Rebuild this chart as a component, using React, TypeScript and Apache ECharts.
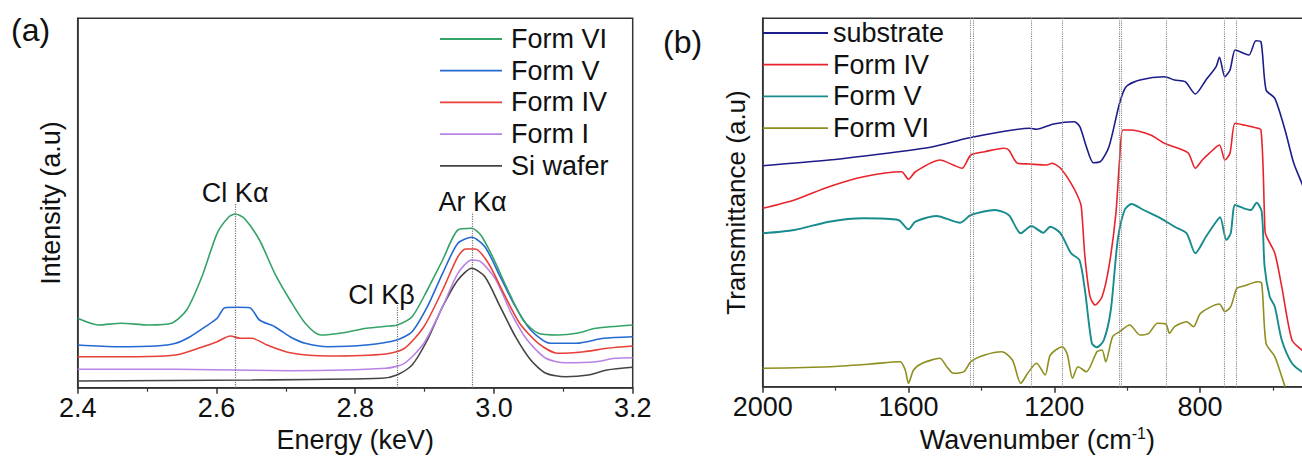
import React, { useEffect, useRef } from 'react';
import * as echarts from 'echarts';

const FONT = '"Liberation Sans", Arial, Helvetica, sans-serif';

// ---------- Panel (a): EDX spectra, [energy keV, intensity a.u.] ----------
const aFormVI: [number, number][] = [
  [2.4, 69.4], [2.43, 62.7], [2.463, 64.4], [2.502, 62.7], [2.535, 64.4], [2.557, 77.7], [2.579, 111],
  [2.601, 154.4], [2.618, 171], [2.627, 173.7], [2.64, 169.4], [2.662, 147.7], [2.684, 114.4],
  [2.706, 87.7], [2.728, 64.4], [2.75, 52.7], [2.783, 55], [2.816, 59.4], [2.849, 61.7], [2.861, 62.7],
  [2.882, 71], [2.904, 97.7], [2.926, 127.7], [2.948, 157.7], [2.968, 159.4], [2.981, 152.7],
  [2.998, 131], [3.02, 97.7], [3.042, 67.7], [3.064, 54.4], [3.092, 52.7], [3.119, 54.4],
  [3.147, 59.4], [3.2, 62.7],
];
const aFormV: [number, number][] = [
  [2.4, 42.7], [2.458, 41], [2.513, 41.7], [2.541, 44.4], [2.562, 51], [2.584, 61], [2.601, 69.4],
  [2.612, 80], [2.629, 80.4], [2.648, 80], [2.662, 67.7], [2.684, 61], [2.706, 51], [2.728, 44.4],
  [2.761, 41], [2.816, 42.7], [2.86, 47.7], [2.882, 56], [2.904, 81], [2.926, 114.4], [2.948, 144.4],
  [2.968, 150.4], [2.987, 141], [3.009, 111], [3.031, 81], [3.053, 57.7], [3.081, 44.4],
  [3.119, 44.4], [3.158, 49.4], [3.2, 51],
];
const aFormIV: [number, number][] = [
  [2.4, 31], [2.485, 31], [2.541, 32.7], [2.574, 39.4], [2.601, 46], [2.62, 51.7], [2.634, 49.4],
  [2.651, 49.4], [2.673, 42.7], [2.706, 35], [2.761, 31.7], [2.844, 33.7], [2.871, 39.4],
  [2.899, 61], [2.926, 97.7], [2.948, 131], [2.959, 138.7], [2.973, 138.7], [2.992, 124.4],
  [3.014, 94.4], [3.037, 64.4], [3.064, 44.4], [3.092, 34.4], [3.13, 36], [3.163, 39.4], [3.2, 41.7],
];
const aFormI: [number, number][] = [
  [2.4, 18.4], [2.541, 18.4], [2.706, 17], [2.844, 19.4], [2.871, 24.4], [2.899, 44.4], [2.926, 81],
  [2.948, 114.4], [2.968, 127.7], [2.981, 126], [3.003, 107.7], [3.025, 74.4], [3.048, 47.7],
  [3.075, 29.4], [3.103, 25], [3.147, 26], [3.174, 29.4], [3.2, 30],
];
const aSiWafer: [number, number][] = [
  [2.4, 6.7], [2.651, 7.7], [2.838, 9.4], [2.86, 12.7], [2.882, 22.7], [2.904, 47.7], [2.926, 81],
  [2.948, 107.7], [2.968, 119.4], [2.987, 111], [3.009, 81], [3.031, 51], [3.053, 27.7],
  [3.075, 14.4], [3.103, 11], [3.136, 12.7], [3.163, 17.7], [3.2, 20.4],
];
const aPeakNames = ['Cl Kα', 'Cl Kβ', 'Ar Kα'];
const aPeakEnergy = [2.627, 2.861, 2.969];
const aPeakTop = [184, 82.5, 175.5];

// ---------- Panel (b): FTIR spectra, [wavenumber cm-1, transmittance a.u.] ----------
const bSubstrate: [number, number][] = [
  [2000, 221], [1818, 226.7], [1628, 235], [1533, 240], [1439, 248.4], [1344, 255], [1268, 258.4],
  [1249, 257.4], [1202, 262.7], [1145, 265], [1130, 260], [1112, 240], [1093, 224], [1074, 225],
  [1050, 240], [1021, 283.4], [1003, 300], [965, 306.7], [898, 310], [870, 306.7], [841, 305],
  [813, 292.7], [784, 306.7], [756, 320], [747, 329.4], [732, 310], [718, 316.7], [704, 336.7],
  [690, 335], [666, 331.7], [647, 346], [633, 345], [619, 296.7], [595, 288.4], [567, 256.7],
  [543, 223.4], [521, 203.4], [505, 185],
];
const bFormIV: [number, number][] = [
  [2000, 178.4], [1913, 186.7], [1818, 200], [1723, 210], [1619, 215], [1600, 207.4], [1581, 215],
  [1514, 226.7], [1477, 221.7], [1453, 218.4], [1429, 231.7], [1391, 235], [1339, 238.4],
  [1325, 236.7], [1301, 223.4], [1268, 222.7], [1221, 221.7], [1206, 223.4], [1183, 218.4],
  [1154, 203.4], [1135, 190], [1126, 180], [1116, 130], [1102, 90], [1088, 81.7], [1069, 90],
  [1050, 120], [1031, 173.4], [1021, 226.7], [1012, 256.7], [993, 256.7], [936, 251.7],
  [898, 243.4], [860, 238.4], [832, 233.4], [813, 218.4], [794, 226.7], [775, 233.4], [747, 241.7],
  [732, 226.7], [718, 233.4], [704, 263.4], [680, 261.7], [652, 259.4], [633, 256.7], [623, 166.7],
  [621, 153.4], [595, 133.4], [576, 100], [548, 46.7], [521, 36.7], [505, 33],
];
const bFormV: [number, number][] = [
  [2000, 153.4], [1913, 156.7], [1818, 165], [1723, 168.4], [1628, 166.7], [1600, 157.4],
  [1581, 165], [1524, 170.7], [1458, 164], [1429, 171.7], [1363, 176.7], [1325, 171.7],
  [1292, 153.4], [1263, 160.7], [1230, 154], [1211, 160], [1183, 153.4], [1154, 133.4],
  [1131, 126.7], [1116, 96.7], [1097, 43.4], [1083, 39.4], [1064, 46.7], [1045, 76.7],
  [1026, 146.7], [1007, 176.7], [988, 182.7], [955, 176.7], [908, 168.4], [870, 160], [837, 153.4],
  [813, 133.4], [784, 150], [756, 165], [745, 169.4], [728, 146.7], [716, 153.4], [704, 181.7],
  [680, 178.4], [661, 176.7], [645, 184], [631, 175], [623, 120], [609, 90], [595, 80], [576, 46.7],
  [548, 23.4], [521, 15], [505, 13],
];
const bFormVI: [number, number][] = [
  [2000, 18.4], [1818, 20], [1704, 22.7], [1623, 25], [1609, 16.7], [1600, 3.4], [1586, 16.7],
  [1562, 23.4], [1514, 28.4], [1495, 20], [1477, 13.4], [1448, 15], [1429, 25], [1391, 31.7],
  [1344, 35], [1315, 26.7], [1292, 3.4], [1273, 13.4], [1249, 23.4], [1225, 11.7], [1211, 31.7],
  [1178, 40], [1164, 31.7], [1150, 8.4], [1135, 20], [1112, 15], [1083, 35], [1069, 36.7],
  [1059, 25], [1040, 50], [1021, 55], [993, 61.7], [965, 51.7], [941, 53.4], [917, 63.4],
  [894, 62.7], [884, 53.4], [870, 60], [837, 65], [818, 60], [799, 73.4], [747, 82.7], [732, 75],
  [716, 80], [699, 98.4], [680, 100.7], [642, 105], [631, 103.4], [619, 43.4], [595, 30],
  [576, 10], [567, 0],
];
const bBandPositions = [1431, 1421, 1262, 1177, 1023, 1016, 892, 735, 700];

const aTickLabels = ['2.4', '2.6', '2.8', '3.0', '3.2'];
const bTickLabels = ['2000', '1600', '1200', '800'];

const strip = (n: string) => n.replace(/^[ab]:/, '');

export default function App() {
  const ref = useRef<HTMLDivElement>(null);

  useEffect(() => {
    if (!ref.current) return;
    const chart = echarts.init(ref.current, undefined, { renderer: 'svg' });
    const axisColor = '#333';
    const txt = { fontFamily: FONT, color: '#111' };

    const lineSeries = (name: string, data: [number, number][], color: string, idx: number, width = 1.6) => ({
      type: 'line', name, data, xAxisIndex: idx, yAxisIndex: idx, symbol: 'none', showSymbol: false, smooth: 0.25,
      lineStyle: { width, color }, itemStyle: { color }, z: 3,
    });

    const legendBase = {
      orient: 'vertical', padding: 0, itemWidth: 62, itemHeight: 1.8, itemGap: 1.7,
      icon: 'rect', formatter: strip, selectedMode: false,
      textStyle: { ...txt, fontSize: 27, lineHeight: 30 },
    };

    const aMark = {
      silent: true, symbol: 'none',
      lineStyle: { type: 'dotted', color: '#777', width: 1.2 },
      label: { show: true, position: 'end', fontSize: 27, ...txt, distance: -3 },
      data: aPeakNames.map((n, i) => [
        { coord: [aPeakEnergy[i], 0], name: n, label: { formatter: n, padding: i === 1 ? [0, 32, 0, 0] : 0 } },
        { coord: [aPeakEnergy[i], aPeakTop[i]], name: n },
      ]),
    };

    const bMark = {
      silent: true, symbol: 'none',
      lineStyle: { type: 'dotted', color: '#888', width: 1.1 },
      label: { show: false },
      data: bBandPositions.map((w) => ({ xAxis: w })),
    };

    const gridBase = { show: true, borderColor: axisColor, borderWidth: 1.5, containLabel: false, outerBoundsMode: 'none' };

    chart.setOption({
      animation: false,
      backgroundColor: '#fff',
      textStyle: { fontFamily: FONT },
      grid: [
        { ...gridBase, left: 77.7, width: 555, top: 18.3, height: 369.4 },
        { ...gridBase, left: 762.7, width: 583.2, top: 18.3, height: 368.4 },
      ],
      xAxis: [
        {
          type: 'value', gridIndex: 0, min: 2.4, max: 3.2, interval: 0.2,
          name: 'Energy (keV)', nameLocation: 'middle', nameGap: 36,
          nameTextStyle: { ...txt, fontSize: 27 },
          axisLine: { lineStyle: { color: axisColor, width: 1.5 } },
          axisTick: { length: 6, lineStyle: { color: axisColor, width: 1.5 } },
          minorTick: { show: true, splitNumber: 2, length: 4, lineStyle: { color: axisColor, width: 1.2 } },
          axisLabel: { ...txt, fontSize: 27, margin: 7, formatter: (v: number) => aTickLabels.find((t) => Math.abs(parseFloat(t) - v) < 1e-6) ?? '' },
          splitLine: { show: false },
        },
        {
          type: 'value', gridIndex: 1, min: 400, max: 2000, interval: 400, inverse: true,
          name: 'Wavenumber (cm{sup|-1})', nameLocation: 'middle', nameGap: 34,
          nameTextStyle: {
            ...txt, fontSize: 27, padding: [0, 34, 0, 0],
            rich: { sup: { ...txt, fontSize: 16, padding: [0, 0, 13, 0] } },
          },
          axisLine: { lineStyle: { color: axisColor, width: 1.5 } },
          axisTick: { length: 6, lineStyle: { color: axisColor, width: 1.5 } },
          minorTick: { show: true, splitNumber: 2, length: 4, lineStyle: { color: axisColor, width: 1.2 } },
          axisLabel: { ...txt, fontSize: 27, margin: 7, formatter: (v: number) => (bTickLabels.includes(String(v)) ? String(v) : '') },
          splitLine: { show: false },
        },
      ],
      yAxis: [
        {
          type: 'value', gridIndex: 0, min: 0, max: 369.4,
          name: 'Intensity (a.u)', nameLocation: 'middle', nameGap: 13, nameRotate: 90,
          nameTextStyle: { ...txt, fontSize: 27 },
          axisLine: { show: true, lineStyle: { color: axisColor, width: 1.5 } },
          axisTick: { show: false }, axisLabel: { show: false }, splitLine: { show: false },
        },
        {
          type: 'value', gridIndex: 1, min: 0, max: 368.4,
          name: 'Transmittance (a.u)', nameLocation: 'middle', nameGap: 14, nameRotate: 90,
          nameTextStyle: { ...txt, fontSize: 26 },
          axisLine: { show: true, lineStyle: { color: axisColor, width: 1.5 } },
          axisTick: { show: false }, axisLabel: { show: false }, splitLine: { show: false },
        },
      ],
      legend: [
        { ...legendBase, left: 440, top: 24, data: ['a:Form VI', 'a:Form V', 'a:Form IV', 'a:Form I', 'a:Si wafer'], textStyle: { ...legendBase.textStyle, padding: [0, 0, 0, 4] } },
        { ...legendBase, left: 763, top: 18, itemWidth: 65, data: ['b:substrate', 'b:Form IV', 'b:Form V', 'b:Form VI'] },
      ],
      graphic: [
        { type: 'text', left: 11, top: 14, style: { text: '(a)', font: `32px ${FONT}`, fill: '#111' } },
        { type: 'text', left: 663, top: 26, style: { text: '(b)', font: `32px ${FONT}`, fill: '#111' } },
      ],
      series: [
        { ...lineSeries('a:Si wafer', aSiWafer, '#444444', 0), markLine: aMark },
        lineSeries('a:Form I', aFormI, '#b983e6', 0),
        lineSeries('a:Form IV', aFormIV, '#e8403a', 0),
        lineSeries('a:Form V', aFormV, '#2468d2', 0),
        lineSeries('a:Form VI', aFormVI, '#35a268', 0),
        { ...lineSeries('b:substrate', bSubstrate, '#1c1c8a', 1), markLine: bMark },
        lineSeries('b:Form IV', bFormIV, '#e8232b', 1),
        lineSeries('b:Form V', bFormV, '#188c8c', 1, 1.9),
        lineSeries('b:Form VI', bFormVI, '#8e8e1e', 1),
      ],
    });

    return () => chart.dispose();
  }, []);

  return (
    <div style={{ position: 'fixed', left: 0, top: 0, width: 1302, height: 456, overflow: 'hidden', background: '#fff' }}>
      <div ref={ref} style={{ width: 1350, height: 456 }} />
    </div>
  );
}
